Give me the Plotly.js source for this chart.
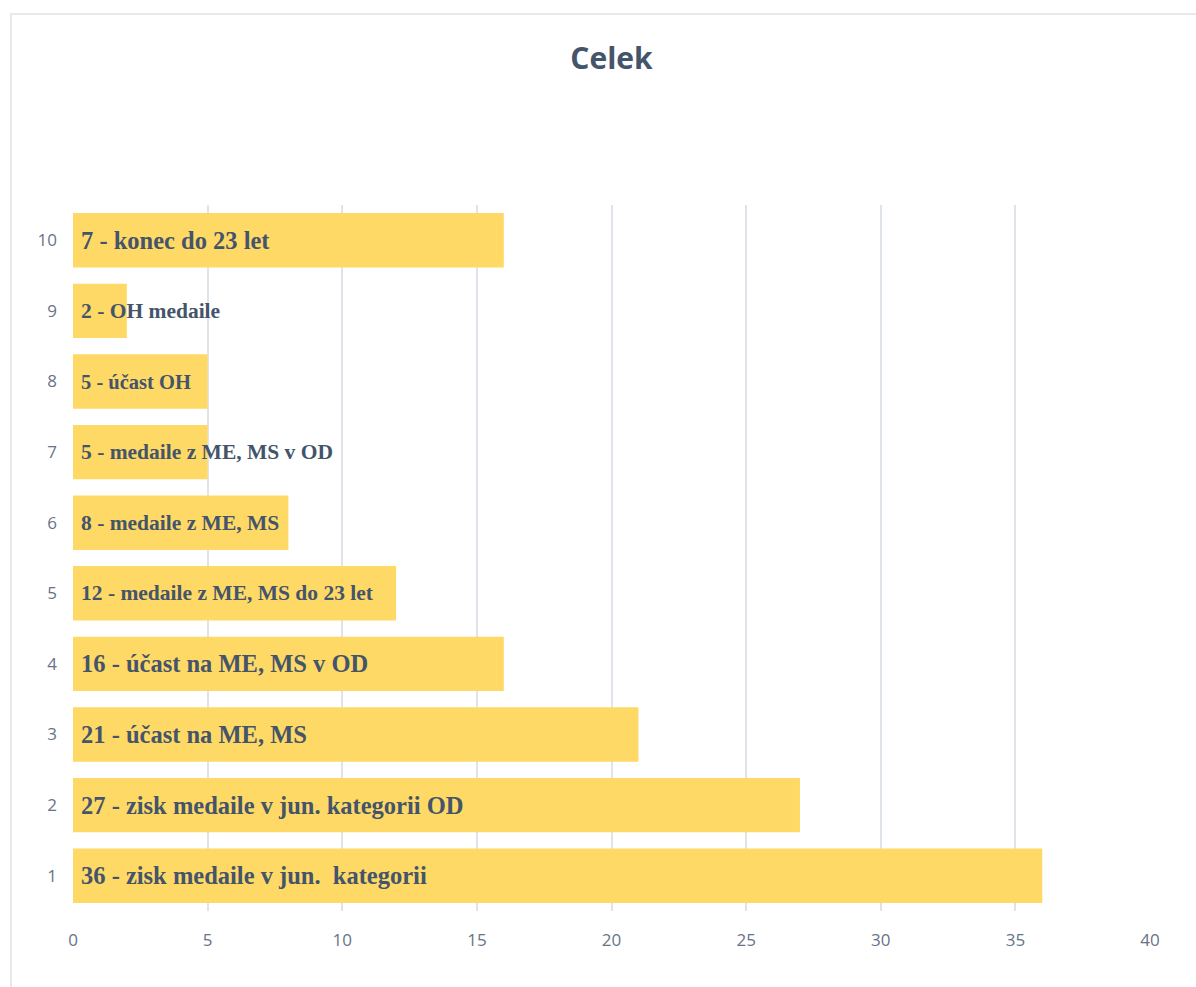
<!DOCTYPE html>
<html>
<head>
<meta charset="utf-8">
<script src="https://cdn.plot.ly/plotly-3.0.1.min.js"></script>
<style>
  html, body { margin: 0; padding: 0; background: #ffffff; }
  #wrap { position: relative; width: 1196px; height: 987px; }
  #chart { position: absolute; left: 0; top: 0; width: 1196px; height: 987px; }
  #frame { position: absolute; left: 10px; top: 13px; width: 1186px; height: 974px;
           border-top: 2px solid #e6e9ee; border-left: 2px solid #e6e9ee; box-sizing: border-box; pointer-events: none; }
</style>
</head>
<body>
<div id="wrap">
  <div id="chart"></div>
  <div id="frame"></div>
</div>
<script>
const categories = [1, 2, 3, 4, 5, 6, 7, 8, 9, 10];
const values = [36, 27, 21, 16, 12, 8, 5, 5, 2, 16];
const labels = [
  "36 - zisk medaile v jun.  kategorii",
  "27 - zisk medaile v jun. kategorii OD",
  "21 - účast na ME, MS",
  "16 - účast na ME, MS v OD",
  "12 - medaile z ME, MS do 23 let",
  "8 - medaile z ME, MS",
  "5 - medaile z ME, MS v OD",
  "5 - účast OH",
  "2 - OH medaile",
  "7 - konec do 23 let"
];
const labelSizes = [24.5, 24.5, 24.5, 24.5, 21.5, 21.5, 21.5, 20.5, 21.5, 24.5];
const xTicks = [0, 5, 10, 15, 20, 25, 30, 35, 40];

const textColor = "#44546a";
const tickColor = "#667489";

const bars = {
  type: "bar",
  orientation: "h",
  x: values,
  y: categories,
  marker: { color: "#FFD966", line: { width: 0 } },
  hoverinfo: "none",
  showlegend: false
};

const annotations = categories.map((c, i) => ({
  x: 0, y: c, xref: "x", yref: "y",
  text: "<b>" + labels[i] + "</b>",
  showarrow: false,
  xanchor: "left", yanchor: "middle",
  xshift: 6,
  font: { family: "Liberation Serif, Times New Roman, serif", size: labelSizes[i], color: textColor }
}));

const layout = {
  width: 1196,
  height: 987,
  margin: { l: 73, r: 46, t: 205, b: 76 },
  paper_bgcolor: "rgba(0,0,0,0)",
  plot_bgcolor: "rgba(0,0,0,0)",
  bargap: 0.23,
  title: {
    text: "<b>Celek</b>",
    font: { family: "Open Sans, sans-serif", size: 30, color: textColor },
    x: 0.5, xref: "paper", xanchor: "center",
    y: 1 - 58 / 987, yref: "container", yanchor: "middle"
  },
  xaxis: {
    range: [0, 40],
    tickvals: xTicks,
    ticktext: xTicks.map(String),
    showgrid: true,
    gridcolor: "#dfe3ea",
    gridwidth: 2,
    zeroline: false,
    showline: false,
    ticks: "",
    ticklabelstandoff: 17,
    tickfont: { family: "Open Sans, sans-serif", size: 17, color: tickColor },
    fixedrange: true
  },
  yaxis: {
    range: [0.5, 10.5],
    tickvals: categories,
    ticktext: categories.map(String),
    showgrid: false,
    zeroline: false,
    showline: false,
    ticks: "",
    ticklabelstandoff: 15,
    tickfont: { family: "Open Sans, sans-serif", size: 17, color: tickColor },
    fixedrange: true
  },
  annotations: annotations
};

Plotly.newPlot("chart", [bars], layout, { displayModeBar: false, staticPlot: true });
</script>
</body>
</html>
